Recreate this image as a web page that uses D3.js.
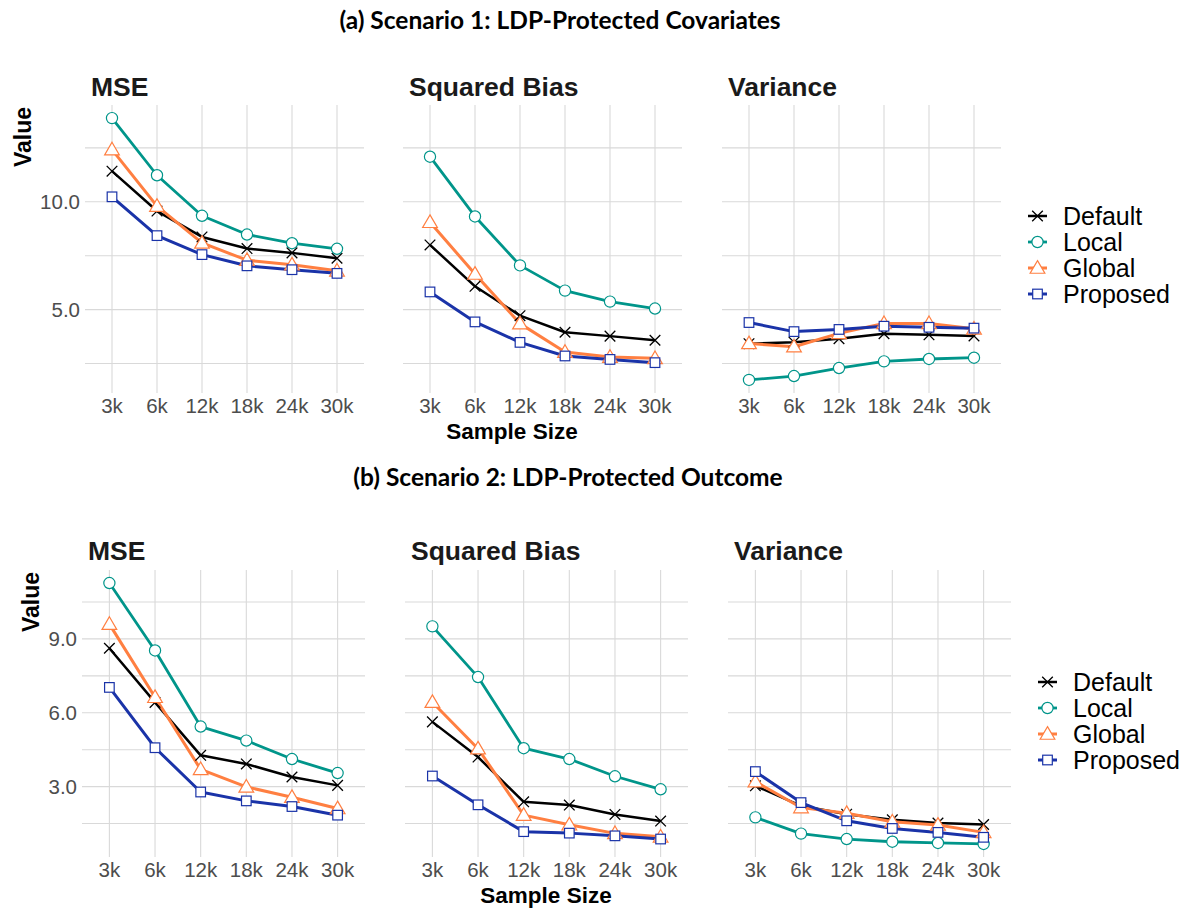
<!DOCTYPE html>
<html>
<head>
<meta charset="utf-8">
<script src="https://cdn.jsdelivr.net/npm/d3@7"></script>
<style>
  body { margin: 0; background: #fff; }
  svg { display: block; font-family: "Liberation Sans", Arial, sans-serif; }
</style>
</head>
<body>
<svg id="chart" width="1190" height="909"></svg>
<script>
// categories
var sampleSizes = ["3k", "6k", "12k", "18k", "24k", "30k"];
var methods = ["Default", "Local", "Global", "Proposed"];
var metrics = ["MSE", "Squared Bias", "Variance"];

// scenario 1: rows are Default, Local, Global, Proposed
var s1Mse = [
    [11.42, 9.57, 8.37, 7.83, 7.63, 7.38],
    [13.88, 11.23, 9.35, 8.48, 8.08, 7.82],
    [12.42, 9.80, 8.09, 7.29, 7.08, 6.80],
    [10.23, 8.43, 7.55, 7.03, 6.85, 6.68]
];
var s1Bias = [
    [8.00, 6.08, 4.72, 3.95, 3.77, 3.58],
    [12.09, 9.32, 7.05, 5.88, 5.37, 5.05],
    [9.05, 6.65, 4.35, 3.03, 2.80, 2.74],
    [5.82, 4.43, 3.48, 2.85, 2.69, 2.54]
];
var s1Var = [
    [3.42, 3.49, 3.65, 3.88, 3.83, 3.78],
    [1.74, 1.92, 2.29, 2.60, 2.71, 2.77],
    [3.43, 3.28, 3.90, 4.36, 4.36, 4.11],
    [4.40, 3.98, 4.08, 4.23, 4.18, 4.14]
];

// scenario 2
var s2Mse = [
    [8.62, 6.42, 4.27, 3.92, 3.39, 3.05],
    [11.27, 8.53, 5.44, 4.87, 4.12, 3.55],
    [9.60, 6.63, 3.70, 2.99, 2.57, 2.11],
    [7.03, 4.58, 2.78, 2.42, 2.19, 1.84]
];
var s2Bias = [
    [5.63, 4.20, 2.38, 2.25, 1.87, 1.60],
    [9.51, 7.45, 4.56, 4.12, 3.42, 2.89],
    [6.43, 4.54, 1.84, 1.45, 1.10, 0.96],
    [3.43, 2.26, 1.17, 1.11, 1.00, 0.87]
];
var s2Var = [
    [3.03, 2.22, 1.88, 1.65, 1.52, 1.46],
    [1.75, 1.09, 0.87, 0.76, 0.71, 0.67],
    [3.20, 2.15, 1.92, 1.57, 1.44, 1.14],
    [3.61, 2.35, 1.61, 1.30, 1.14, 0.94]
];

// y tick labels
var s1YTicks = [5, 10];
var s2YTicks = [3, 6, 9];

var colors = ["#000000", "#00958a", "#ff7f41", "#1a33a8"];
var shapes = ["cross", "circle", "triangle", "square"];
var lineWidths = [2.5, 2.8, 3, 3];

var svg = d3.select("#chart");

function drawMarker(g, shape, x, y, color) {
    if (shape === "circle") {
        g.append("circle").attr("cx", x).attr("cy", y).attr("r", 5.6)
            .attr("fill", "#fff").attr("stroke", color).attr("stroke-width", 1.2);
    } else if (shape === "triangle") {
        var s = 7;
        g.append("path")
            .attr("d", "M" + x + "," + (y - s * 1.05) + "L" + (x + s * 1.05) + "," + (y + s * 0.75) + "L" + (x - s * 1.05) + "," + (y + s * 0.75) + "Z")
            .attr("fill", "#fff").attr("stroke", color).attr("stroke-width", 1.2);
    } else if (shape === "square") {
        g.append("rect").attr("x", x - 4.8).attr("y", y - 4.8).attr("width", 9.6).attr("height", 9.6)
            .attr("fill", "#fff").attr("stroke", color).attr("stroke-width", 1.2);
    } else {
        var c = 5.3;
        g.append("path")
            .attr("d", "M" + (x - c) + "," + (y - c) + "L" + (x + c) + "," + (y + c) + "M" + (x - c) + "," + (y + c) + "L" + (x + c) + "," + (y - c))
            .attr("stroke", color).attr("stroke-width", 1.3).attr("fill", "none");
    }
}

function drawRow(cfg) {
    var all = d3.merge(d3.merge(cfg.panels));
    var lo = d3.min(all), hi = d3.max(all), pad = (hi - lo) * 0.05;

    var yScale = d3.scaleLinear()
        .domain([lo - pad, hi + pad])
        .range([cfg.bottom, cfg.top]);

    // minor gridlines half way between majors
    var step = cfg.yTicks[1] - cfg.yTicks[0];
    var grid = d3.range(cfg.yTicks[0] - step / 2, hi + pad, step / 2)
        .filter(function(v) { return v > lo - pad; });

    svg.append("text")
        .attr("x", cfg.titleX).attr("y", cfg.titleY)
        .attr("text-anchor", "middle")
        .style("font-family", "Lato, sans-serif")
        .style("font-weight", 700).style("font-size", "24.5px")
        .text(cfg.title);

    cfg.panels.forEach(function(panel, p) {
        var left = cfg.lefts[p];
        var xScale = d3.scalePoint()
            .domain(sampleSizes)
            .range([left, left + cfg.width])
            .padding(0.6);

        var g = svg.append("g");

        g.selectAll(".hgrid").data(grid).enter().append("line")
            .attr("x1", left).attr("x2", left + cfg.width)
            .attr("y1", function(d) { return yScale(d); })
            .attr("y2", function(d) { return yScale(d); })
            .attr("stroke", "#d9d9d9").attr("stroke-width", 1.1);

        g.selectAll(".vgrid").data(sampleSizes).enter().append("line")
            .attr("x1", function(d) { return xScale(d); })
            .attr("x2", function(d) { return xScale(d); })
            .attr("y1", cfg.top).attr("y2", cfg.bottom)
            .attr("stroke", "#d9d9d9").attr("stroke-width", 1.1);

        g.selectAll(".xlab").data(sampleSizes).enter().append("text")
            .attr("x", function(d) { return xScale(d); })
            .attr("y", cfg.tickY)
            .attr("text-anchor", "middle")
            .attr("fill", "#4d4d4d")
            .style("font-size", "20.5px")
            .text(function(d) { return d; });

        if (p === 0) {
            g.selectAll(".ylab").data(cfg.yTicks).enter().append("text")
                .attr("x", cfg.yLabelX)
                .attr("y", function(d) { return yScale(d) + 7; })
                .attr("text-anchor", "end")
                .attr("fill", "#4d4d4d")
                .style("font-size", "20.5px")
                .text(function(d) { return d3.format(".1f")(d); });
        }

        g.append("text")
            .attr("x", left + cfg.stripDx).attr("y", cfg.stripY)
            .attr("fill", "#1a1a1a")
            .style("font-weight", "bold").style("font-size", "26.5px")
            .text(metrics[p]);

        var line = d3.line()
            .x(function(d, i) { return xScale(sampleSizes[i]); })
            .y(function(d) { return yScale(d); });

        panel.forEach(function(series, m) {
            g.append("path")
                .datum(series)
                .attr("fill", "none")
                .attr("stroke", colors[m])
                .attr("stroke-width", lineWidths[m])
                .attr("stroke-linejoin", "round")
                .attr("d", line);
        });
        panel.forEach(function(series, m) {
            series.forEach(function(v, i) {
                drawMarker(g, shapes[m], xScale(sampleSizes[i]), yScale(v), colors[m]);
            });
        });
    });

    // axis titles
    svg.append("text")
        .attr("transform", "translate(" + cfg.valueX + "," + cfg.valueY + ") rotate(-90)")
        .attr("text-anchor", "middle")
        .style("font-weight", "bold").style("font-size", "23px")
        .text("Value");

    svg.append("text")
        .attr("x", cfg.xTitleX).attr("y", cfg.xTitleY)
        .attr("text-anchor", "middle")
        .style("font-weight", "bold").style("font-size", "22.5px")
        .text("Sample Size");

    // legend
    var legend = svg.append("g");
    methods.forEach(function(name, m) {
        var y = cfg.legendY + m * 26;
        legend.append("line")
            .attr("x1", cfg.legendX).attr("x2", cfg.legendX + 19)
            .attr("y1", y).attr("y2", y)
            .attr("stroke", colors[m]).attr("stroke-width", lineWidths[m]);
        drawMarker(legend, shapes[m], cfg.legendX + 9.5, y, colors[m]);
        legend.append("text")
            .attr("x", cfg.legendX + 35).attr("y", y + 8.5)
            .style("font-size", "25px")
            .text(name);
    });
}

drawRow({
    title: "(a) Scenario 1: LDP-Protected Covariates", titleX: 560, titleY: 29,
    panels: [s1Mse, s1Bias, s1Var], yTicks: s1YTicks,
    lefts: [85, 403, 722], width: 279, top: 105, bottom: 393,
    stripDx: 6, stripY: 96, tickY: 413, yLabelX: 80,
    valueX: 31, valueY: 137, xTitleX: 512, xTitleY: 439,
    legendX: 1028, legendY: 216
});

drawRow({
    title: "(b) Scenario 2: LDP-Protected Outcome", titleX: 568, titleY: 486,
    panels: [s2Mse, s2Bias, s2Var], yTicks: s2YTicks,
    lefts: [82, 405, 728], width: 283, top: 570, bottom: 857,
    stripDx: 6, stripY: 560, tickY: 877, yLabelX: 77,
    valueX: 39, valueY: 602, xTitleX: 546, xTitleY: 903,
    legendX: 1038, legendY: 682
});
</script>
</body>
</html>
